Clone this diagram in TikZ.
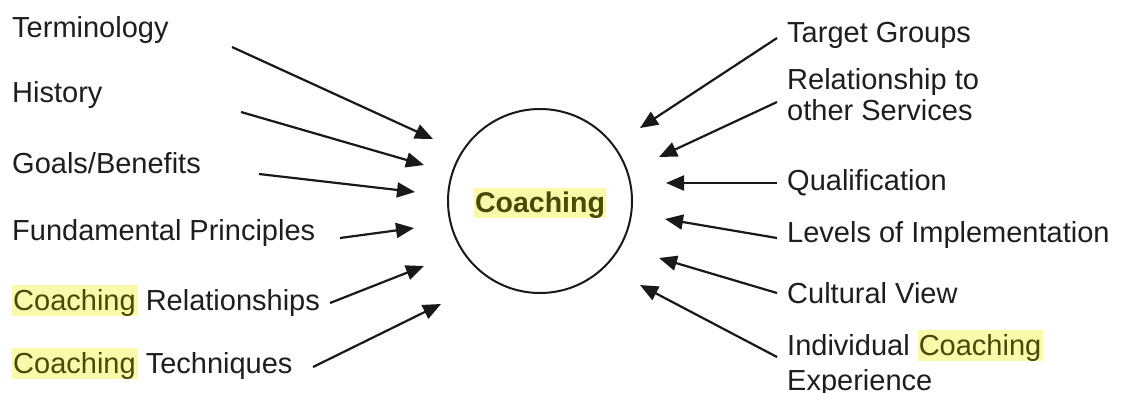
\documentclass[tikz,border=0pt]{standalone}
\usepackage{fontspec}
\setmainfont{Liberation Sans}
\usetikzlibrary{arrows.meta}
\definecolor{hly}{HTML}{FAFAAA}
\definecolor{hltext}{HTML}{4A4A08}
\definecolor{txt}{HTML}{1E1E1E}
\newcommand\hlword[1]{{\setlength{\fboxsep}{0pt}\colorbox{hly}{\color{hltext}\rule[-3pt]{0pt}{28pt}\hspace{1pt}#1\hspace{2pt}}}}
\newcommand\hlbold[1]{{\setlength{\fboxsep}{0pt}\colorbox{hly}{\color{hltext}\rule[-5pt]{0pt}{29pt}\hspace{1pt}\bfseries #1\hspace{1pt}}}}
\begin{document}
\begin{tikzpicture}[x=1pt,y=-1pt,
  lbl/.style={anchor=base west,inner sep=0pt,font=\fontsize{29}{31}\selectfont,text=txt},
  arr/.style={line width=2.2pt,draw=black!90,-{Triangle[length=18pt,width=15pt]}},
  hub/.style={circle,draw=black!90,line width=2pt,minimum size=184pt,inner sep=0pt}]
\useasboundingbox (0,0) rectangle (1123,392);
\fill[white] (0,0) rectangle (1123,392);
% hub
\node[hub] (hub) at (540,201) {};
\node[lbl,anchor=base,font=\fontsize{28.5}{31}\selectfont] (hubtxt) at (540,212) {\hlbold{Coaching}};
% left labels
\node[lbl] (term) at (12,37) {Terminology};
\node[lbl] (hist) at (12,102) {History};
\node[lbl] (goal) at (12,173) {Goals/Benefits};
\node[lbl] (fund) at (12,240) {Fundamental Principles};
\node[lbl] (crel) at (12,310) {\hlword{Coaching} Relationships};
\node[lbl] (ctec) at (12,373) {\hlword{Coaching} Techniques};
% right labels
\node[lbl] (targ) at (787,42) {Target Groups};
\node[lbl] (rela) at (787,89) {Relationship to};
\node[lbl] (relb) at (787,120) {other Services};
\node[lbl] (qual) at (787,190) {Qualification};
\node[lbl] (levl) at (787,242) {Levels of Implementation};
\node[lbl] (cult) at (787,303) {Cultural View};
\node[lbl] (inda) at (787,355) {Individual \hlword{Coaching}};
\node[lbl] (indb) at (787,390) {Experience};
% connector ends
\coordinate (s1) at (232,47);  \coordinate (t1) at (433,139);
\coordinate (s2) at (241,112); \coordinate (t2) at (424,165);
\coordinate (s3) at (259,174); \coordinate (t3) at (415,192);
\coordinate (s4) at (340,238); \coordinate (t4) at (414,228);
\coordinate (s5) at (330,303); \coordinate (t5) at (424,266);
\coordinate (s6) at (313,367); \coordinate (t6) at (441,304);
\coordinate (r1) at (777,38);  \coordinate (u1) at (640,128);
\coordinate (r2) at (777,102); \coordinate (u2) at (659,157);
\coordinate (r3) at (777,183); \coordinate (u3) at (666,183);
\coordinate (r4) at (777,238); \coordinate (u4) at (665,219);
\coordinate (r5) at (777,293); \coordinate (u5) at (659,258);
\coordinate (r6) at (777,357); \coordinate (u6) at (640,285);
\foreach \a/\b in {s1/t1,s2/t2,s3/t3,s4/t4,s5/t5,s6/t6,r1/u1,r2/u2,r3/u3,r4/u4,r5/u5,r6/u6}
  \draw[arr] (\a) -- (\b);
\end{tikzpicture}
\end{document}
